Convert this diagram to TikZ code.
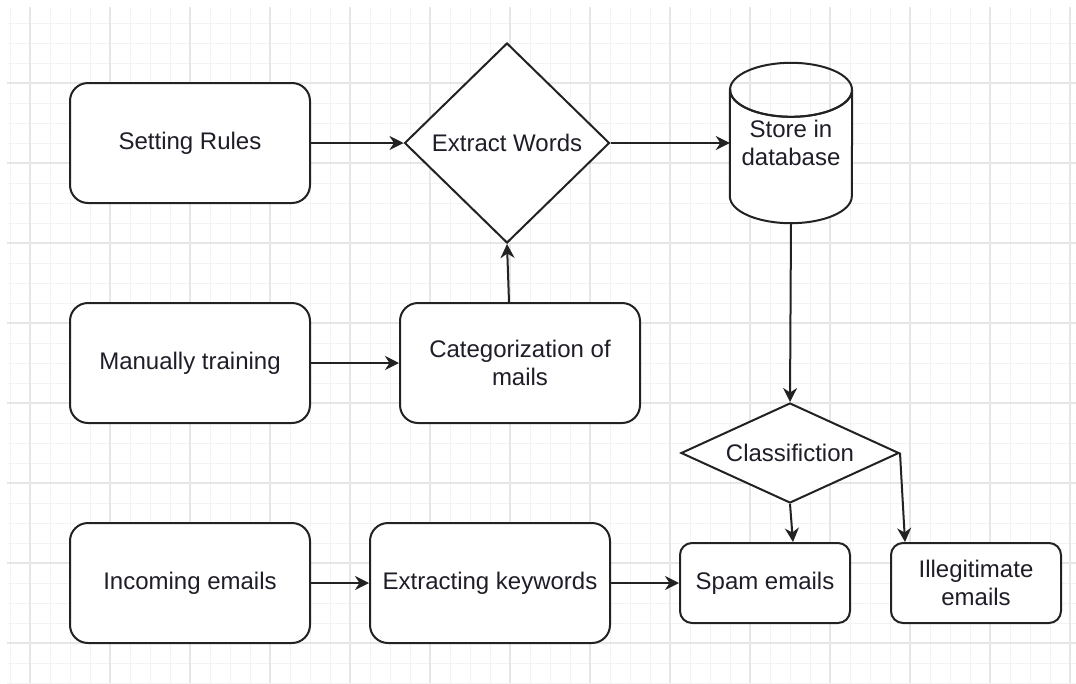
\documentclass[tikz,border=0pt]{standalone}
\usepackage{fontspec}
\setmainfont{Liberation Sans}
\usetikzlibrary{shapes.geometric,arrows.meta,calc}
\definecolor{gridminor}{HTML}{F3F3F3}
\definecolor{gridmajor}{HTML}{E6E6E6}
\definecolor{ink}{HTML}{222222}
\definecolor{txtcol}{HTML}{1E1E28}
\pgfdeclarelayer{gridlayer}
\pgfdeclarelayer{bodylayer}
\pgfsetlayers{gridlayer,bodylayer,main}

\begin{document}
\begin{tikzpicture}[x=1pt,y=-1pt,
  shapeline/.style={draw=ink, line width=2pt, fill=white},
  boxtext/.style={text=txtcol, font=\fontsize{24}{28}\selectfont, align=center},
  roundbox/.style={shapeline, boxtext, rectangle, rounded corners=18pt,
    minimum width=240pt, minimum height=120pt, inner sep=0pt},
  smallbox/.style={shapeline, boxtext, rectangle, rounded corners=12pt,
    minimum width=170pt, minimum height=80pt, inner sep=0pt},
  decision/.style={shapeline, boxtext, diamond, inner sep=0pt},
  flow/.style={draw=ink, line width=2pt, -{Stealth[length=14pt,width=14pt,inset=4.5pt]}},
]
\useasboundingbox (0,0) rectangle (1076,683);

% paper grid
\begin{pgfonlayer}{gridlayer}
  \fill[white] (0,0) rectangle (1076,683);
  \foreach \gx in {10,30,...,1070}
    \draw[gridminor, line width=1pt] (\gx,7) -- (\gx,683);
  \foreach \gy in {23,43,...,683}
    \draw[gridminor, line width=1pt] (7,\gy) -- (1076,\gy);
  \foreach \gx in {30,110,...,1070}
    \draw[gridmajor, line width=1.2pt] (\gx,7) -- (\gx,683);
  \foreach \gy in {83,163,...,643}
    \draw[gridmajor, line width=1.2pt] (7,\gy) -- (1076,\gy);
\end{pgfonlayer}

% nodes
\node[roundbox] (sr) at (190,143) {Setting Rules};
\node[decision, minimum width=205pt, minimum height=200pt] (ew) at (507,143) {Extract Words};
\node[boxtext, rectangle, minimum width=122pt, minimum height=160pt, inner sep=0pt] (db) at (791,143) {Store in\\database};
\node[roundbox] (mt) at (190,363) {Manually training};
\node[roundbox] (cm) at (520,363) {Categorization of\\mails};
\node[decision, aspect=2.2, minimum width=218pt, minimum height=100pt] (cl) at (790,453) {Classifiction};
\node[roundbox] (ie) at (190,583) {Incoming emails};
\node[roundbox] (ek) at (490,583) {Extracting keywords};
\node[smallbox] (sp) at (765,583) {Spam emails};
\node[smallbox] (il) at (976,583) {Illegitimate\\emails};

% database cylinder
\begin{pgfonlayer}{bodylayer}
  \path[shapeline] ($(db.north west)+(0,27)$) -- ($(db.south west)+(0,-27)$)
    arc[start angle=180, end angle=0, x radius=61, y radius=27]
    -- ($(db.north east)+(0,27)$)
    arc[start angle=0, end angle=180, x radius=61, y radius=27] -- cycle;
  \draw[draw=ink, line width=2pt] ($(db.north)+(0,27)$) ellipse [x radius=61, y radius=27];
\end{pgfonlayer}

% connectors
\draw[flow] (sr.east) -- (ew.west);
\draw[flow] (ew.east) -- (db.west);
\draw[flow] ([xshift=-11pt]cm.north) -- (ew.south);
\draw[flow] (mt.east) -- (cm.west);
\draw[flow] (db.south) -- (cl.north);
\draw[flow] (cl.south) -- ([xshift=28pt]sp.north);
\draw[flow] (cl.east) -- ([xshift=-71pt]il.north);
\draw[flow] (ie.east) -- (ek.west);
\draw[flow] (ek.east) -- (sp.west);
\end{tikzpicture}
\end{document}
